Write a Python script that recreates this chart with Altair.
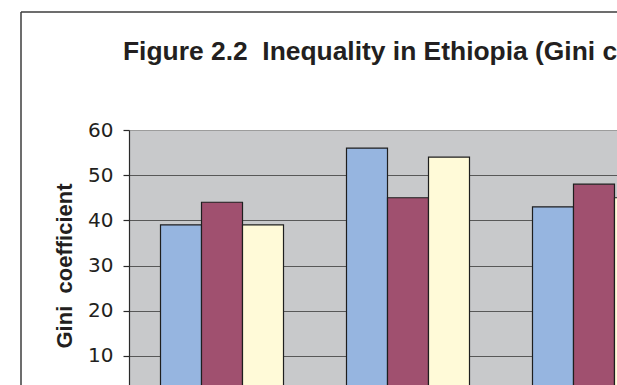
import altair as alt
import pandas as pd

# Gini coefficients by area (groups) and survey round (series)
areas = ["Rural", "Urban", "National"]
rounds = ["1995/96", "1999/00", "2004/05"]
gini_1995 = [39, 56, 43]
gini_1999 = [44, 45, 48]
gini_2004 = [39, 54, 45]
round_colors = ["#96b5e0", "#a0506f", "#fffad8"]
y_ticks = [10, 20, 30, 40, 50, 60]
chart_title = "Figure 2.2\u00a0 Inequality in Ethiopia (Gini coefficients)"
y_title = "Gini\u00a0 coefficient"

series_values = {rounds[0]: gini_1995, rounds[1]: gini_1999, rounds[2]: gini_2004}
df = pd.DataFrame(
    [
        {"area": a, "round": r, "gini": series_values[r][i]}
        for i, a in enumerate(areas)
        for r in rounds
    ]
)
one = pd.DataFrame({"k": [0]})

TEXT = "#231f20"

bars = (
    alt.Chart(df)
    .mark_bar(stroke="#1e1e1e", strokeWidth=1.2)
    .encode(
        x=alt.X(
            "area:N",
            sort=areas,
            scale=alt.Scale(range=[0, 558], paddingInner=0.3387, paddingOuter=0.1694),
            axis=None,
        ),
        xOffset=alt.XOffset(
            "round:N", sort=rounds, scale=alt.Scale(paddingInner=0, paddingOuter=0)
        ),
        y=alt.Y(
            "gini:Q",
            scale=alt.Scale(domain=[0, 60], range=[271, 0], nice=False),
            axis=alt.Axis(
                title=y_title,
                values=y_ticks,
                grid=True,
                gridColor=alt.expr("datum.value === 60 ? '#9c9c9c' : '#585858'"),
                gridWidth=1.2,
                domainColor="#2a2a2a",
                domainWidth=1.2,
                tickColor="#2a2a2a",
                tickSize=6,
                tickWidth=1.2,
                labelFont="DejaVu Sans",
                labelFontSize=20,
                labelColor=TEXT,
                labelPadding=10,
                titleFont="Liberation Sans",
                titleFontSize=22,
                titleFontWeight="bold",
                titleColor=TEXT,
                titlePadding=11,
            ),
        ),
        color=alt.Color(
            "round:N",
            sort=rounds,
            scale=alt.Scale(domain=rounds, range=round_colors),
            legend=None,
        ),
    )
)

# Outer figure frame (top and left edges)
frame_top = (
    alt.Chart(one)
    .mark_rule(color="#3c3c3c", strokeWidth=1.5)
    .encode(x=alt.value(-108), x2=alt.value(600), y=alt.value(-118))
)
frame_left = (
    alt.Chart(one)
    .mark_rule(color="#3c3c3c", strokeWidth=1.5)
    .encode(x=alt.value(-108), y=alt.value(-118), y2=alt.value(400))
)

title = (
    alt.Chart(one)
    .mark_text(
        text=chart_title,
        align="left",
        baseline="alphabetic",
        font="Liberation Sans",
        fontSize=26.4,
        fontWeight="bold",
        color=TEXT,
    )
    .encode(x=alt.value(-6), y=alt.value(-70))
)

chart = (
    alt.layer(bars, frame_top, frame_left, title)
    .properties(
        width=488,
        height=255,
        autosize=alt.AutoSizeParams(type="none"),
        padding={"left": 129, "top": 130, "right": 0, "bottom": 0},
        background="white",
    )
    .configure_view(fill="#c8c9cb", stroke=None)
)

chart.save("out.html", embed_options={"renderer": "svg", "actions": False})
